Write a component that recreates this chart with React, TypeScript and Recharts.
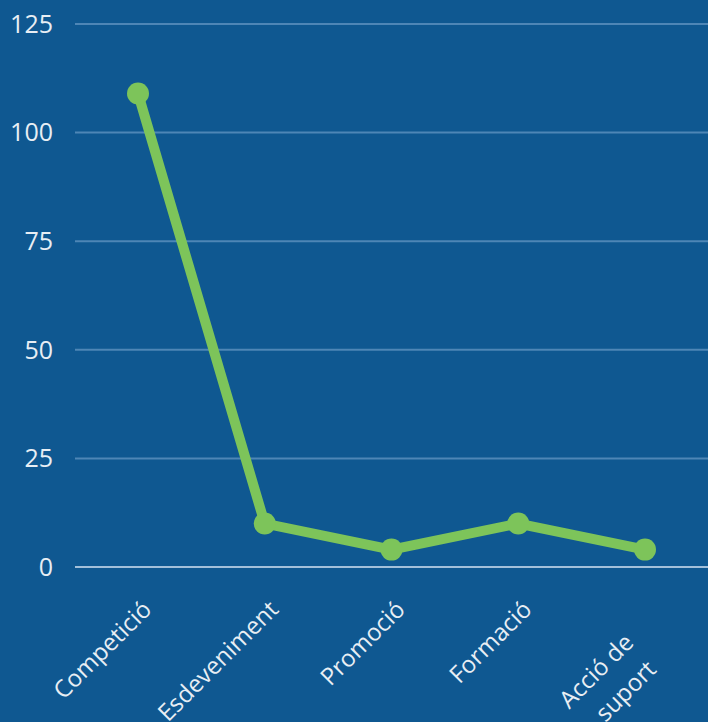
import { LineChart, Line, XAxis, YAxis, CartesianGrid } from 'recharts';

const categories = ['Competició', 'Esdeveniment', 'Promoció', 'Formació', 'Acció de suport'];
const activitats = [109, 10, 4, 10, 4];
const yTicks = [0, 25, 50, 75, 100, 125];

const data = categories.map((name, i) => ({ name, value: activitats[i] }));

const FONT = '"Open Sans", sans-serif';

const CategoryTick = (props: any) => {
  const { x, y, payload } = props;
  const twoLines = payload.value === 'Acció de suport';
  const words: string[] = twoLines ? ['Acció de', 'suport'] : [payload.value];
  const tx = twoLines ? x - 10 : x + 15;
  const ty = twoLines ? y + 75 : y + 42;
  return (
    <g transform={`translate(${tx},${ty}) rotate(-45)`}>
      <text textAnchor="end" fill="#E8EEF4" fontSize={24} fontFamily={FONT}>
        {words.map((w, i) => (
          <tspan key={w} x={i === 0 ? 0 : -3} dy={i === 0 ? 0 : 35}>
            {w}
          </tspan>
        ))}
      </text>
    </g>
  );
};

export default function App() {
  return (
    <div style={{ position: 'absolute', left: 0, top: 0, width: 708, height: 722, background: '#0F5891', overflow: 'hidden' }}>
      <LineChart width={708} height={722} data={data} margin={{ top: 24, right: 0, bottom: 0, left: 0 }}>
        <CartesianGrid vertical={false} stroke="#4E86B6" strokeWidth={2} />
        <XAxis
          dataKey="name"
          interval={0}
          tickLine={false}
          tickSize={0}
          padding={{ left: 63, right: 63 }}
          axisLine={{ stroke: '#A3C0DA', strokeWidth: 2 }}
          tick={<CategoryTick />}
          height={155}
        />
        <YAxis
          domain={[0, 125]}
          ticks={yTicks}
          width={75}
          axisLine={false}
          tickLine={false}
          tickSize={0}
          tickMargin={22}
          tick={{ fill: '#E8EEF4', fontSize: 25, fontFamily: FONT }}
        />
        <Line
          type="linear"
          dataKey="value"
          stroke="#7DC45A"
          strokeWidth={10}
          dot={{ r: 11, fill: '#7DC45A', stroke: 'none' }}
          isAnimationActive={false}
        />
      </LineChart>
    </div>
  );
}
